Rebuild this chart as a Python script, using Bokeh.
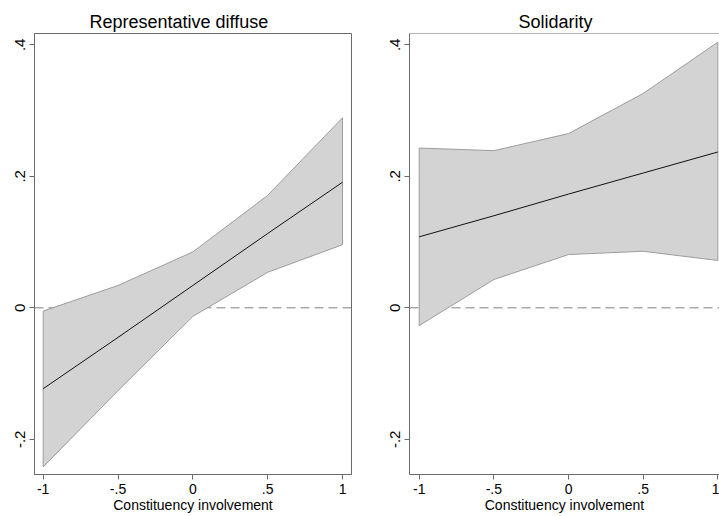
from bokeh.plotting import figure
from bokeh.layouts import row
from bokeh.models import Range1d, FixedTicker, Span
from bokeh.embed import file_html
from bokeh.resources import INLINE

# Evaluation points of constituency involvement
x_pts = [-1, -0.5, 0, 0.5, 1]
x_tick_labels = ["-1", "-.5", "0", ".5", "1"]
y_ticks = [-0.2, 0, 0.2, 0.4]
y_tick_labels = ["-.2", "0", ".2", ".4"]

# Representative diffuse: estimate with 95% CI
rep_est = [-0.123, -0.045, 0.034, 0.113, 0.191]
rep_lo = [-0.242, -0.126, -0.013, 0.054, 0.096]
rep_hi = [-0.005, 0.034, 0.085, 0.171, 0.289]

# Solidarity: estimate with 95% CI
sol_est = [0.108, 0.140, 0.173, 0.205, 0.237]
sol_lo = [-0.027, 0.043, 0.081, 0.086, 0.072]
sol_hi = [0.243, 0.239, 0.265, 0.326, 0.404]

FONT = "Liberation Sans"
FRAME = "#6a6a6a"
Y_START, Y_END = -0.2535, 0.4172


def panel(title, est, lo, hi, width, left, right, x_start, x_end, title_offset, full_outline):
    p = figure(width=width, height=516, output_backend="svg", toolbar_location=None,
               x_range=Range1d(x_start, x_end), y_range=Range1d(Y_START, Y_END),
               min_border_left=left, min_border_right=right,
               min_border_top=33, min_border_bottom=42)
    p.title.text = title
    p.title.align = "left"
    p.title.offset = title_offset
    p.title.text_font = FONT
    p.title.text_font_size = "18px"
    p.title.text_font_style = "normal"
    p.title.text_color = "#000000"
    p.title.standoff = 4

    p.xgrid.visible = False
    p.ygrid.visible = False
    p.background_fill_color = "white"
    p.border_fill_color = "white"
    if full_outline:
        p.outline_line_color = FRAME
        p.outline_line_width = 1
    else:
        p.outline_line_color = None
        p.add_layout(Span(location=Y_END, dimension="width", line_color=FRAME, line_width=1))

    # zero reference line sits behind the band
    p.add_layout(Span(location=0, dimension="width", line_color="#808080",
                      line_dash="9 5", line_width=1, level="underlay"))

    # confidence band as a closed polygon
    band_x = list(x_pts) + list(reversed(x_pts))
    band_y = list(hi) + list(reversed(lo))
    p.patch(band_x, band_y, fill_color="#d3d3d3", line_color="#9c9c9c", line_width=1)
    p.line(x_pts, est, line_color="#111111", line_width=1)

    xa = p.xaxis[0]
    xa.ticker = FixedTicker(ticks=x_pts)
    xa.major_label_overrides = {v: s for v, s in zip(x_pts, x_tick_labels)}
    xa.axis_label = "Constituency involvement"
    xa.axis_label_text_font = FONT
    xa.axis_label_text_font_size = "14px"
    xa.axis_label_text_font_style = "normal"
    xa.axis_label_text_color = "#000000"
    xa.axis_label_standoff = 0
    xa.major_label_text_font = FONT
    xa.major_label_text_font_size = "14px"
    xa.major_label_text_color = "#000000"
    xa.major_label_standoff = 4
    xa.major_tick_out = 5
    xa.major_tick_in = 0
    xa.minor_tick_line_color = None
    xa.axis_line_color = FRAME
    xa.major_tick_line_color = FRAME

    ya = p.yaxis[0]
    ya.ticker = FixedTicker(ticks=y_ticks)
    ya.major_label_overrides = {v: s for v, s in zip(y_ticks, y_tick_labels)}
    ya.major_label_orientation = "vertical"
    ya.major_label_text_font = FONT
    ya.major_label_text_font_size = "15px"
    ya.major_label_text_color = "#000000"
    ya.major_label_standoff = 4
    ya.major_tick_out = 5
    ya.major_tick_in = 0
    ya.minor_tick_line_color = None
    ya.axis_line_color = FRAME
    ya.major_tick_line_color = FRAME
    return p


left_panel = panel("Representative diffuse", rep_est, rep_lo, rep_hi,
                   360, 34, 9, -1.058, 1.060, 55, True)
right_panel = panel("Solidarity", sol_est, sol_lo, sol_hi,
                    359, 49, 0, -1.065, 1.011, 109, False)

layout = row(left_panel, right_panel)
open("out.html", "w").write(file_html(layout, INLINE))
